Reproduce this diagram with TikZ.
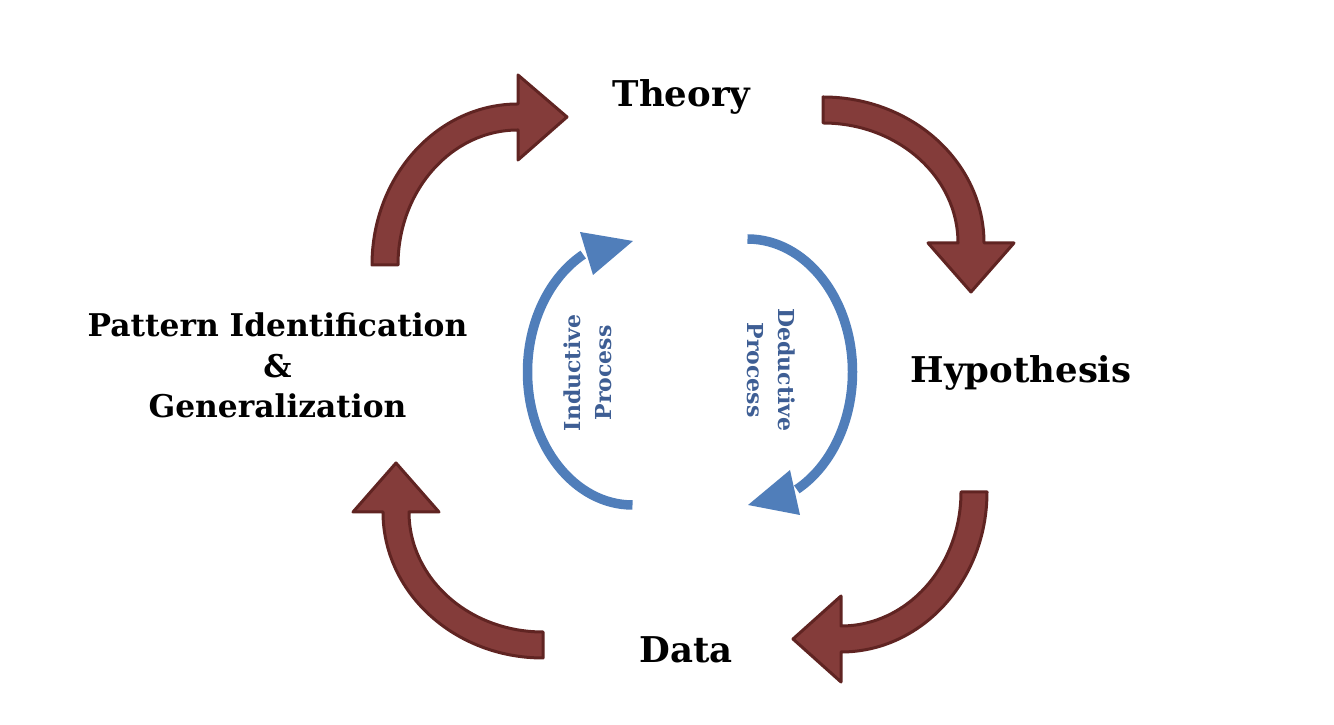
\documentclass[tikz,border=0pt]{standalone}
\usepackage{fontspec}
\setmainfont{DejaVu Serif}
\definecolor{brownfill}{RGB}{132,60,58}
\definecolor{browndraw}{RGB}{96,36,34}
\definecolor{bluearrow}{RGB}{80,126,186}
\definecolor{bluetext}{RGB}{62,94,148}
\tikzset{
  bigarrow/.style={fill=brownfill, draw=browndraw, line width=3pt, line join=round},
  bluearc/.style={draw=bluearrow, line width=9.5pt},
  bluehead/.style={fill=bluearrow},
  mainlabel/.style={font=\fontsize{35.5}{40}\selectfont\bfseries, inner sep=0pt, anchor=base},
  sidelabel/.style={font=\fontsize{31.3}{40.5}\selectfont\bfseries, inner sep=0pt, align=center, anchor=base},
  proclabel/.style={font=\fontsize{22}{31}\selectfont\bfseries, text=bluetext, inner sep=0pt, align=center}
}
\begin{document}
\begin{tikzpicture}[x=1pt,y=1pt]
\useasboundingbox (0,0) rectangle (1334,725);
% labels
\node[mainlabel] (theory) at (681.5,618) {Theory};
\node[mainlabel] (hyp) at (1021,342) {Hypothesis};
\node[mainlabel] (data) at (686,62) {Data};
\node[sidelabel] (pattern) at (277.5,307) {Pattern Identification\\\&\\Generalization};
% big brown arrows
\draw[bigarrow] (372,460) arc[start angle=180, end angle=90, x radius=146, y radius=161]
  -- (518,650) -- (567,608) -- (518,565) -- (518,595)
  arc[start angle=90, end angle=180, x radius=120, y radius=135] -- cycle;
\draw[bigarrow] (823,628) arc[start angle=90, end angle=0, x radius=161, y radius=146]
  -- (1014,482) -- (971,433) -- (928,482) -- (958,482)
  arc[start angle=0, end angle=90, x radius=135, y radius=120] -- cycle;
\draw[bigarrow] (987,233) arc[start angle=0, end angle=-90, x radius=146, y radius=160]
  -- (841,43) -- (793,86) -- (841,129) -- (841,99)
  arc[start angle=-90, end angle=0, x radius=120, y radius=134] -- cycle;
\draw[bigarrow] (543,67) arc[start angle=270, end angle=180, x radius=160, y radius=146]
  -- (353,213) -- (396,262) -- (439,213) -- (409,213)
  arc[start angle=180, end angle=270, x radius=134, y radius=120] -- cycle;
% blue arcs
\draw[bluearc] (632.5,220) arc[start angle=270, end angle=118, x radius=105, y radius=133];
\fill[bluehead] (633,484) -- (580,493) -- (593,450) -- cycle;
\draw[bluearc] (747.5,486) arc[start angle=90, end angle=-62, x radius=105, y radius=133];
\fill[bluehead] (748,220) -- (790,255) -- (800,210) -- cycle;
% process labels
\node[proclabel, rotate=90] (ind) at (588,352) {Inductive\\Process};
\node[proclabel, rotate=-90] (ded) at (771,355) {Deductive\\Process};
\end{tikzpicture}
\end{document}
